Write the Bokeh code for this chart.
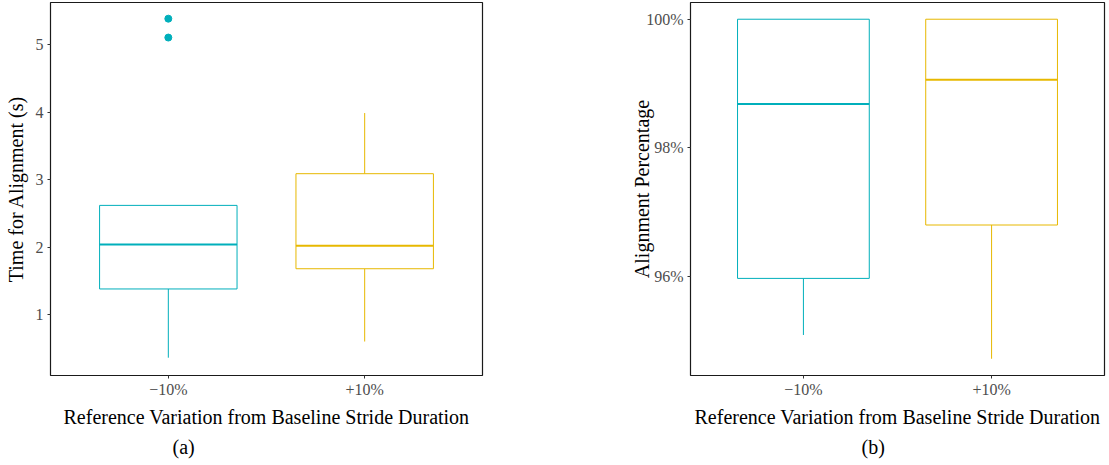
from bokeh.plotting import figure
from bokeh.layouts import row
from bokeh.models import FactorRange, Range1d, FixedTicker, PrintfTickFormatter, Title
from bokeh.transform import dodge
from bokeh.embed import file_html
from bokeh.resources import INLINE

# Reference variation groups
cats = ["\u221210%", "+10%"]
colors = ["#00AFBB", "#E7B800"]

# (a) time for alignment, seconds: box-plot statistics per group
time_q1 = [1.38, 1.68]
time_med = [2.04, 2.02]
time_q3 = [2.62, 3.09]
time_lo = [0.36, 0.60]
time_hi = [2.62, 3.99]
time_out_cat = ["\u221210%", "\u221210%"]
time_out_val = [5.39, 5.11]

# (b) alignment percentage: box-plot statistics per group
pct_q1 = [95.97, 96.80]
pct_med = [98.68, 99.06]
pct_q3 = [100.0, 100.0]
pct_lo = [95.09, 94.72]
pct_hi = [100.0, 100.0]

FONT = "Liberation Serif"
BOX_W = 0.7


def boxplot(width, height, borders, y_range, ticks, y_title, y_title_standoff,
            caption, cap_offset, q1, med, q3, lo, hi,
            out_cat=None, out_val=None, fmt=None):
    left, right, top, bottom = borders
    p = figure(width=width, height=height, output_backend="svg", toolbar_location=None,
               x_range=FactorRange(factors=cats, range_padding=0.1), y_range=y_range,
               min_border_left=left, min_border_right=right,
               min_border_top=top, min_border_bottom=bottom)
    p.xgrid.visible = False
    p.ygrid.visible = False
    p.background_fill_color = "white"
    p.border_fill_color = "white"
    p.outline_line_color = "#1a1a1a"
    p.outline_line_width = 1.2

    # whiskers
    p.segment(x0=cats, x1=cats, y0=lo, y1=q1, line_color=colors, line_width=1)
    p.segment(x0=cats, x1=cats, y0=q3, y1=hi, line_color=colors, line_width=1)
    # boxes
    p.vbar(x=cats, width=BOX_W, bottom=q1, top=q3, fill_color="white",
           line_color=colors, line_width=1)
    # medians
    p.segment(x0=dodge("x", -BOX_W / 2, range=p.x_range),
              x1=dodge("x", BOX_W / 2, range=p.x_range),
              y0="y", y1="y", line_color="c", line_width=2,
              source=dict(x=cats, y=med, c=colors))
    if out_cat is not None:
        p.scatter(x=out_cat, y=out_val, size=7, color=colors[0])

    for ax in (p.xaxis[0], p.yaxis[0]):
        ax.axis_line_color = None
        ax.major_tick_line_color = "#333333"
        ax.major_tick_in = 0
        ax.major_tick_out = 3
        ax.minor_tick_line_color = None
        ax.major_label_text_font = FONT
        ax.major_label_text_font_size = "16px"
        ax.major_label_text_color = "#4D4D4D"
        ax.axis_label_text_font = FONT
        ax.axis_label_text_font_size = "20px"
        ax.axis_label_text_font_style = "normal"
        ax.axis_label_text_color = "black"

    p.yaxis.ticker = FixedTicker(ticks=ticks)
    if fmt is not None:
        p.yaxis.formatter = PrintfTickFormatter(format=fmt)
    p.yaxis.axis_label = y_title
    p.yaxis.major_label_standoff = 4
    p.yaxis.axis_label_standoff = y_title_standoff
    p.xaxis.axis_label = "Reference Variation from Baseline Stride Duration"
    p.xaxis.major_label_standoff = 2
    p.xaxis.axis_label_standoff = 5

    p.add_layout(Title(text=caption, align="left", offset=cap_offset,
                       text_font=FONT, text_font_size="20px", text_font_style="normal",
                       text_color="black", standoff=6), "below")
    return p


pa = boxplot(560, 465, (50, 78, 2, 90), Range1d(0.096, 5.63), [1, 2, 3, 4, 5],
             "Time for Alignment (s)", 6, "(a)", 122,
             time_q1, time_med, time_q3, time_lo, time_hi, time_out_cat, time_out_val)
pb = boxplot(549, 465, (130, 5, 2, 90), Range1d(94.46, 100.26), [96, 98, 100],
             "Alignment Percentage", -10, "(b)", 171,
             pct_q1, pct_med, pct_q3, pct_lo, pct_hi, fmt="%d%%")

layout = row(pa, pb)
open("out.html", "w").write(file_html(layout, INLINE))
